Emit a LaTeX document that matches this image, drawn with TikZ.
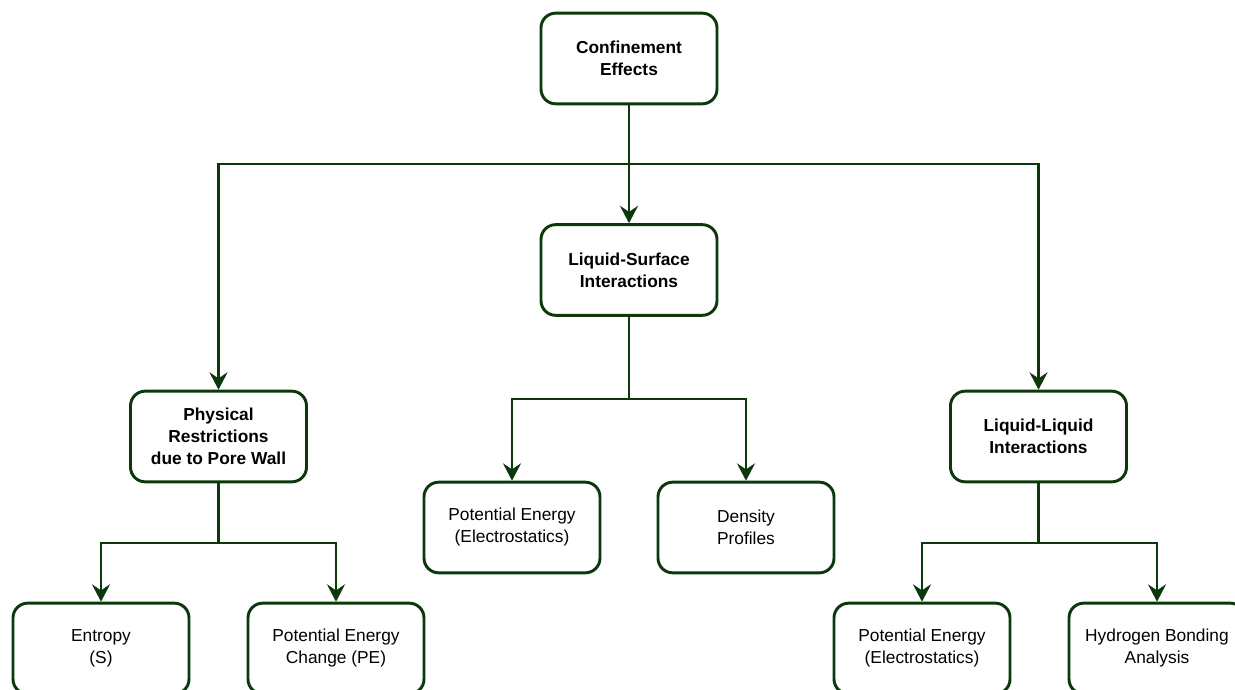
\documentclass[tikz,border=0pt]{standalone}
\usepackage{fontspec}
\setmainfont{Liberation Sans}
\usetikzlibrary{arrows.meta}
\definecolor{edgegreen}{RGB}{12,56,12}
\tikzset{
  box/.style={draw=edgegreen, line width=2.2pt, rounded corners=11pt, fill=white,
    minimum width=132pt, minimum height=68pt, align=center, inner sep=2pt,
    font=\fontsize{13}{16.5}\selectfont},
  boldbox/.style={box, font=\fontsize{13}{16.5}\selectfont\bfseries},
  link/.style={draw=edgegreen, line width=2.2pt, -{Stealth[length=13pt,width=13.5pt,inset=4.5pt]}},
  plain/.style={draw=edgegreen, line width=2.2pt}
}
\begin{document}
\begin{tikzpicture}[x=0.75pt,y=-0.75pt]
\useasboundingbox (0,0) rectangle (1235,689);
\clip (0,0) rectangle (1235,689);
\node[boldbox] (ce) at (629,58.5) {Confinement\\Effects};
\node[boldbox] (ls) at (629,270) {Liquid-Surface\\Interactions};
\node[boldbox] (pr) at (218.5,436.5) {Physical\\Restrictions\\due to Pore Wall};
\node[boldbox] (ll) at (1038.5,436.5) {Liquid-Liquid\\Interactions};
\node[box] (pe1) at (512,527.5) {Potential Energy\\(Electrostatics)};
\node[box] (dp) at (746,527.5) {Density\\Profiles};
\node[box] (en) at (101,648.5) {Entropy\\(S)};
\node[box] (pc) at (336,648.5) {Potential Energy\\Change (PE)};
\node[box] (pe2) at (922,648.5) {Potential Energy\\(Electrostatics)};
\node[box] (hb) at (1157,648.5) {Hydrogen Bonding\\Analysis};
\coordinate (j1) at (629,164);
\coordinate (j2) at (629,399);
\coordinate (j3) at (218.5,543);
\coordinate (j4) at (1038.5,543);
\path[plain] (ce.south) -- (j1);
\path[link] (j1) -- (ls.north);
\path[link] (j1) -| (pr.north);
\path[link] (j1) -| (ll.north);
\path[plain] (ls.south) -- (j2);
\path[link] (j2) -| (pe1.north);
\path[link] (j2) -| (dp.north);
\path[plain] (pr.south) -- (j3);
\path[link] (j3) -| (en.north);
\path[link] (j3) -| (pc.north);
\path[plain] (ll.south) -- (j4);
\path[link] (j4) -| (pe2.north);
\path[link] (j4) -| (hb.north);
\end{tikzpicture}
\end{document}
